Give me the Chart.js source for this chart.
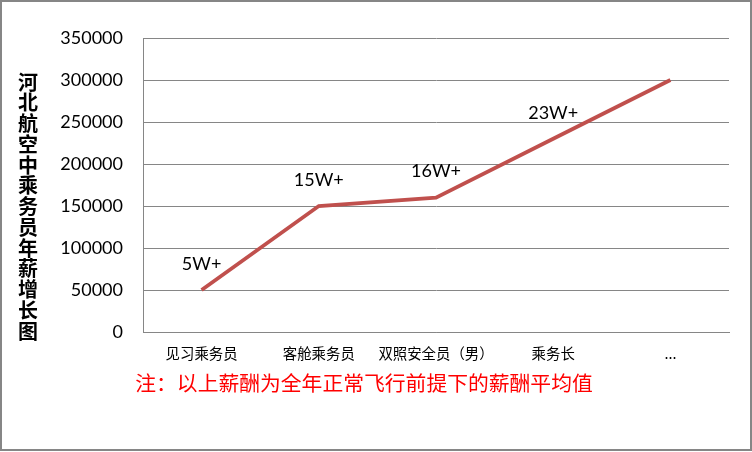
<!DOCTYPE html>
<html><head><meta charset="utf-8">
<script src="https://cdn.jsdelivr.net/npm/chart.js@4"></script>
<style>html,body{margin:0;padding:0;background:#fff;}canvas{display:block;}</style>
</head><body>
<canvas id="c" width="752" height="452"></canvas>
<script>
const categories = ['见习乘务员', '客舱乘务员', '双照安全员（男）', '乘务长', '...'];
const salaries = [50000, 150000, 160000, 230000, 300000];
const pointLabels = ['5W+', '15W+', '16W+', '23W+', ''];
const yTitle = '河北航空中乘务员年薪增长图';
const note = '注：以上薪酬为全年正常飞行前提下的薪酬平均值';

const decor = {
  id: 'decor',
  beforeDraw(chart) {
    const ctx = chart.ctx;
    ctx.save();
    ctx.fillStyle = '#fff';
    ctx.fillRect(0, 0, chart.width, chart.height);
    ctx.restore();
  },
  afterDatasetsDraw(chart) {
    const ctx = chart.ctx;
    const meta = chart.getDatasetMeta(0);
    ctx.save();
    ctx.font = '18px Lato';
    ctx.fillStyle = '#000';
    ctx.textAlign = 'center';
    ctx.textBaseline = 'middle';
    meta.data.forEach((pt, i) => {
      if (pointLabels[i]) ctx.fillText(pointLabels[i], pt.x, pt.y - 26);
    });
    ctx.restore();
  },
  afterDraw(chart) {
    const ctx = chart.ctx;
    ctx.save();
    ctx.font = 'bold 20px "Noto Sans CJK SC"';
    ctx.fillStyle = '#000';
    ctx.textAlign = 'center';
    ctx.textBaseline = 'middle';
    const chars = Array.from(yTitle);
    chars.forEach((ch, i) => ctx.fillText(ch, 28, 82 + i * 20.75));
    ctx.font = '20.8px "Noto Sans CJK SC"';
    ctx.fillStyle = '#FF0000';
    ctx.fillText(note, 364, 383);
    ctx.strokeStyle = '#868686';
    ctx.lineWidth = 2;
    ctx.strokeRect(1, 1, 750, 449);
    ctx.restore();
  }
};

new Chart(document.getElementById('c'), {
  type: 'line',
  data: {
    labels: categories,
    datasets: [{
      data: salaries,
      borderColor: '#C0504D',
      borderWidth: 3.8,
      pointRadius: 0,
      pointHoverRadius: 0,
      tension: 0,
      fill: false
    }]
  },
  options: {
    responsive: false,
    animation: false,
    devicePixelRatio: 1,
    layout: { padding: { top: 38, right: 23, left: 0, bottom: 0 } },
    plugins: { legend: { display: false }, tooltip: { enabled: false }, title: { display: false } },
    scales: {
      x: {
        offset: true,
        grid: { display: false },
        border: { display: true, color: '#868686', width: 1 },
        ticks: {
          color: '#000',
          font: { family: '"Noto Sans CJK SC"', size: 14.4 },
          maxRotation: 0, minRotation: 0, autoSkip: false, padding: 5
        },
        afterFit(s) { s.height = 120; }
      },
      y: {
        min: 0, max: 350000,
        grid: { color: '#868686', lineWidth: 1, drawTicks: false },
        border: { display: true, color: '#868686', width: 1 },
        ticks: {
          stepSize: 50000,
          color: '#000',
          font: { family: 'Lato', size: 18 },
          padding: 20,
          callback: v => String(v)
        },
        afterFit(s) { s.width = 143; }
      }
    }
  },
  plugins: [decor]
});
</script>
</body></html>
